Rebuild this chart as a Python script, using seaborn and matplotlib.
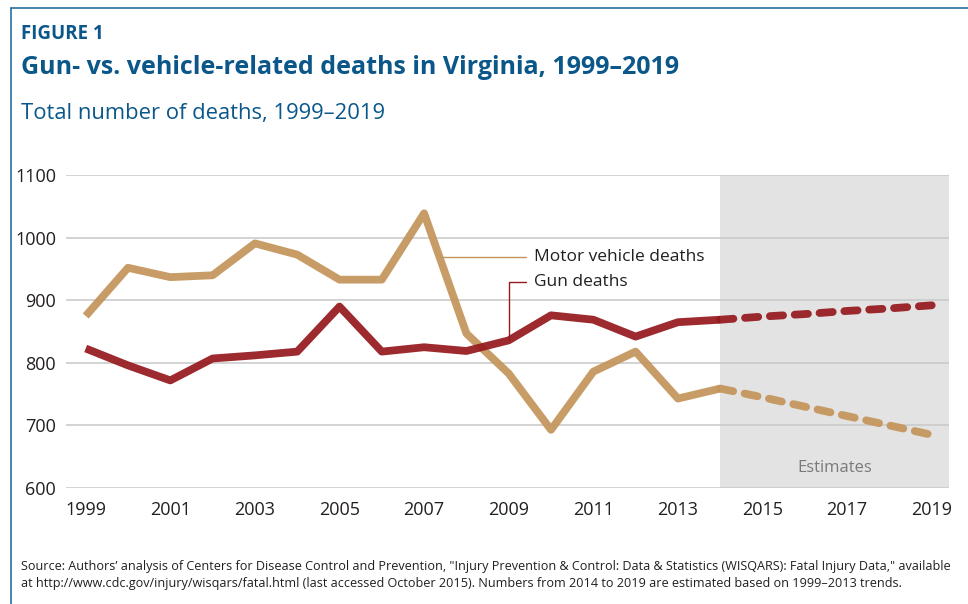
import numpy as np
import pandas as pd
import matplotlib
matplotlib.use("Agg")
import matplotlib.pyplot as plt
import seaborn as sns

# Data
years = list(range(1999, 2015))
vehicle_deaths = [875, 952, 937, 940, 991, 973, 933, 933, 1039, 847, 783, 693, 786, 818, 743, 759]
gun_deaths = [823, 796, 772, 807, 812, 818, 890, 818, 825, 819, 836, 876, 869, 842, 865, 869]

est_years = list(range(2014, 2020))
vehicle_est = [759, 745, 730, 715, 700, 685]
gun_est = [869, 874, 878, 883, 887, 892]

x_ticks = list(range(1999, 2020, 2))
y_ticks = [600, 700, 800, 900, 1000, 1100]

TAN = "#C4955A"
RED = "#961A1E"
BLUE = "#0B578A"
DARK = "#231F20"

sns.set_theme(style="white")
plt.rcParams['font.family'] = ['Open Sans', 'DejaVu Sans']

hist = pd.DataFrame({'Year': years, 'Vehicle': vehicle_deaths, 'Gun': gun_deaths})
est = pd.DataFrame({'Year': est_years, 'Vehicle': vehicle_est, 'Gun': gun_est})

fig = plt.figure(figsize=(9.68, 6.04), dpi=100)
ax = fig.add_axes([0.068, 0.192, 0.912, 0.518])

ax.axvspan(2014, 2019.4, color="#E3E3E3", lw=0, zorder=0)
for v in y_ticks:
    ax.axhline(v, color="#C8C8C8", lw=1.1, zorder=1)

lw = 5.6
sns.lineplot(data=hist, x='Year', y='Vehicle', ax=ax, color=TAN, lw=lw, alpha=0.93,
             solid_capstyle='butt', zorder=3)
sns.lineplot(data=hist, x='Year', y='Gun', ax=ax, color=RED, lw=lw, alpha=0.93,
             solid_capstyle='butt', zorder=4)
sns.lineplot(data=est, x='Year', y='Vehicle', ax=ax, color=TAN, lw=lw, alpha=0.93,
             zorder=3).lines[-1].set(linestyle=(0, (1.7, 1.5)), dash_capstyle='round')
sns.lineplot(data=est, x='Year', y='Gun', ax=ax, color=RED, lw=lw, alpha=0.93,
             zorder=4).lines[-1].set(linestyle=(0, (1.7, 1.5)), dash_capstyle='round')

ax.set_xlim(1998.53, 2019.4)
ax.set_ylim(600, 1100)
ax.set_xticks(x_ticks)
ax.set_yticks(y_ticks)
ax.set_xlabel('')
ax.set_ylabel('')
ax.tick_params(axis='both', length=0, labelsize=13, colors=DARK)
ax.tick_params(axis='y', pad=7)
ax.tick_params(axis='x', pad=9)
for s in ax.spines.values():
    s.set_visible(False)
ax.patch.set_alpha(0)

# Annotations with leader lines
ax.plot([2007.37, 2009.4], [970, 970], color=TAN, lw=1.0, zorder=5)
ax.text(2009.6, 970, 'Motor vehicle deaths', fontsize=12.5, color=DARK, va='center', ha='left')
ax.plot([2009.0, 2009.0, 2009.4], [836, 929, 929], color=RED, lw=1.0, zorder=5)
ax.text(2009.6, 930, 'Gun deaths', fontsize=12.5, color=DARK, va='center', ha='left')
ax.text(2016.7, 632, 'Estimates', fontsize=12, color="#7A7A7A", va='center', ha='center')

# Titles
fig.text(21 / 968, 1 - 34 / 604, 'FIGURE 1', fontsize=13.5, fontweight='bold', color=BLUE, va='center')
fig.text(21 / 968, 1 - 68 / 604, 'Gun- vs. vehicle-related deaths in Virginia, 1999–2019',
         fontsize=18, fontweight='bold', color=BLUE, va='center')
fig.text(21 / 968, 1 - 113 / 604, 'Total number of deaths, 1999–2019', fontsize=15.8,
         color=BLUE, va='center')

# Source note
note = ('Source: Authors\u2019 analysis of Centers for Disease Control and Prevention, "Injury Prevention & Control: '
        'Data & Statistics (WISQARS): Fatal Injury Data," available\n'
        'at http://www.cdc.gov/injury/wisqars/fatal.html (last accessed October 2015). Numbers from 2014 to 2019 '
        'are estimated based on 1999–2013 trends.')
fig.text(21 / 968, 1 - 575 / 604, note, fontsize=9.1, color=DARK, va='center', linespacing=1.45)

# Frame: top and left rules
fig.add_artist(plt.Line2D([11 / 968, 1], [1 - 8 / 604, 1 - 8 / 604], transform=fig.transFigure,
                          color="#2A70A3", lw=1.2))
fig.add_artist(plt.Line2D([11 / 968, 11 / 968], [0, 1 - 8 / 604], transform=fig.transFigure,
                          color="#2A70A3", lw=1.2))

fig.savefig('out.png', dpi=100)
